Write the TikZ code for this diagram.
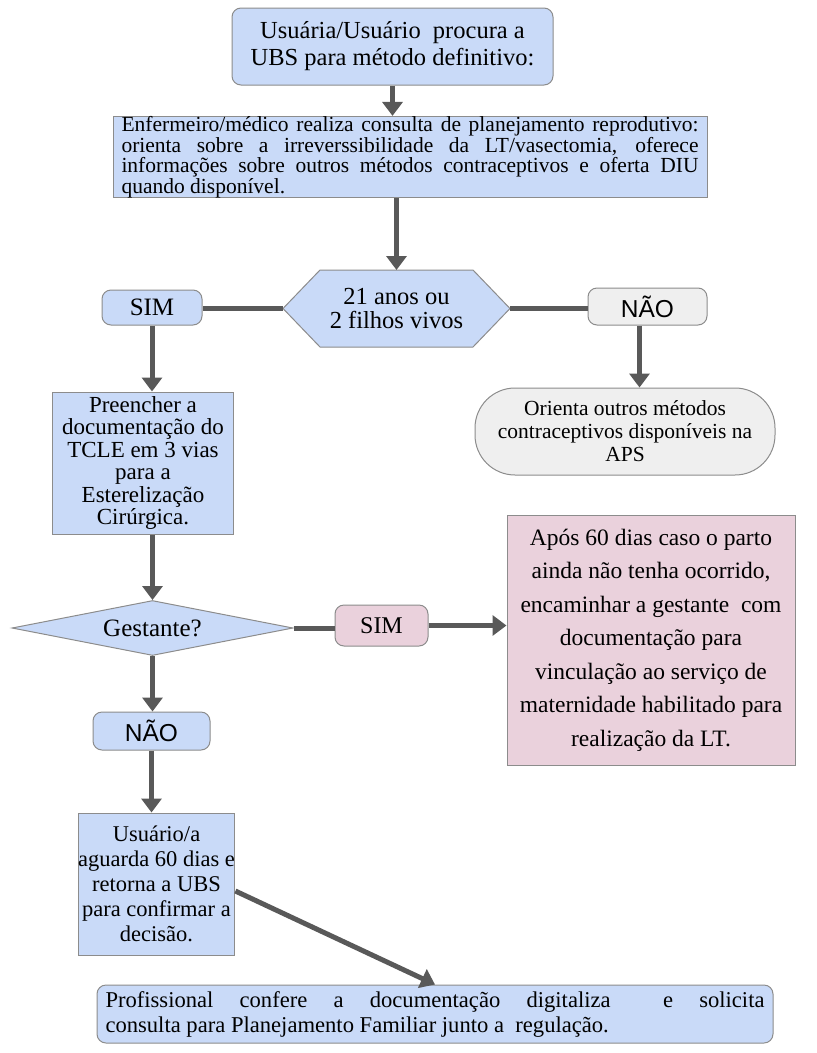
\documentclass[tikz,border=0pt]{standalone}
\usepackage{fontspec}
\setmainfont{Liberation Serif}
\newfontfamily\arialfont{Liberation Sans}
\usepackage{xcolor}
\usetikzlibrary{arrows.meta, shapes.geometric, calc}

\definecolor{boxblue}{HTML}{C9DAF8}
\definecolor{boxpink}{HTML}{EAD1DC}
\definecolor{boxgray}{HTML}{EFEFEF}
\definecolor{edgegray}{HTML}{8C8C8C}
\definecolor{arrowgray}{HTML}{595959}

\begin{document}
\begin{tikzpicture}[x=1pt, y=-1pt,
    box/.style={draw=edgegray, line width=1pt, fill=boxblue, inner sep=0pt, align=center, font=\fontsize{23}{22.5}\selectfont},
    roundbox/.style={box, rounded corners=9pt},
    answer/.style={roundbox, font=\arialfont\fontsize{24.5}{24}\selectfont},
    arr/.style={draw=arrowgray, line width=5pt, -{Triangle[width=20pt,length=14pt]}},
    link/.style={draw=arrowgray, line width=5pt}]

\useasboundingbox (0,0) rectangle (817,1053);

% draw boxes
\node[roundbox, minimum width=321, minimum height=77, font=\fontsize{24.5}{27}\selectfont] (procura) at (392.5,46.5)
  {Usuária/Usuário\ \ procura a\\UBS para método definitivo:};

\node[box, minimum width=594, minimum height=80, text width=577, align=justify,
      font=\fontsize{21.5}{20.5}\selectfont] (consulta) at (410,157)
  {Enfermeiro/médico realiza consulta de planejamento reprodutivo:\linebreak
   orienta sobre a irreverssibilidade da LT/vasectomia, oferece\linebreak
   informações sobre outros métodos contraceptivos e oferta DIU\linebreak
   quando disponível.};

% hexagon: outline drawn round a coordinate, text on top
\coordinate (idade) at (396.5,308.5);
\filldraw[draw=edgegray, line width=1pt, fill=boxblue]
  ($(idade)+(-113.5,0)$) coordinate (idade-w) -- ++(37,-38.5) coordinate (idade-nw) -- ++(153,0) -- ++(37,38.5) coordinate (idade-e)
  -- ++(-37,38.5) -- ++(-153,0) -- cycle;
\node[align=center, font=\fontsize{24.5}{23.5}\selectfont] (idadetxt) at (idade) {21 anos ou\\2 filhos vivos};

\node[roundbox, minimum width=100, minimum height=35, font=\fontsize{25}{25}\selectfont] (sim1) at (152,307.5) {SIM};
\node[answer, fill=boxgray, minimum width=119, minimum height=37] (nao1) at (647.5,306.5) {NÃO};

\node[box, minimum width=181, minimum height=142] (tcle) at (143,463)
  {Preencher a\\documentação do\\TCLE em 3 vias\\para a\\Esterelização\\Cirúrgica.};

\node[box, fill=boxgray, rounded corners=40pt, minimum width=300, minimum height=87,
      font=\fontsize{21.5}{23}\selectfont] (orienta) at (625,431.5)
  {Orienta outros métodos\\contraceptivos disponíveis na\\APS};

\node[box, diamond, aspect=5, minimum width=281, minimum height=55, font=\fontsize{25}{25}\selectfont] (gestante) at (152.5,628) {Gestante?};

\node[roundbox, fill=boxpink, minimum width=93, minimum height=41, font=\fontsize{24}{24}\selectfont] (sim2) at (381.5,625.5) {SIM};

\node[box, fill=boxpink, minimum width=288, minimum height=250, font=\fontsize{23.5}{33.5}\selectfont] (parto) at (651,640)
  {Após 60 dias caso o parto\\ainda não tenha ocorrido,\\encaminhar a gestante\ \ com\\documentação para\\vinculação ao serviço de\\maternidade habilitado para\\realização da LT.};

\node[answer, minimum width=117, minimum height=38] (nao2) at (151.5,731) {NÃO};

\node[box, minimum width=153, minimum height=142, font=\fontsize{22.5}{25}\selectfont] (aguarda) at (156.5,884)
  {Usuário/a\\aguarda 60 dias e\\retorna a UBS\\para confirmar a\\decisão.};

\node[roundbox, minimum width=676, minimum height=58, text width=659, align=justify,
      font=\fontsize{22.6}{25}\selectfont] (confere) at (435,1014)
  {Profissional confere a documentação digitaliza\ \ e solicita\linebreak
   consulta para Planejamento Familiar junto a\ \ regulação.};

% draw connectors
\draw[arr] (procura.south) -- (procura.south |- consulta.north);
\draw[arr] (idade-nw -| idade) ++(0,-72) -- (idade-nw -| idade);
\draw[link] (idade-w) -- (idade-w -| sim1.east);
\draw[link] (idade-e) -- (idade-e -| nao1.west);
\draw[arr] (sim1.south) -- (sim1.south |- tcle.north);
\draw[arr] ([xshift=-8pt]nao1.south) -- ([xshift=-8pt]nao1.south |- orienta.north);
\draw[arr] (gestante.north |- tcle.south) -- (gestante.north);
\draw[link] (gestante.east) -- (gestante.east -| sim2.west);
\draw[arr] (sim2.east) -- (sim2.east -| parto.west);
\draw[arr] (gestante.south) -- (gestante.south |- nao2.north);
\draw[arr] (nao2.south) -- (nao2.south |- aguarda.north);
\draw[arr] ([yshift=-7pt]aguarda.east) -- (confere.north);

\end{tikzpicture}
\end{document}
